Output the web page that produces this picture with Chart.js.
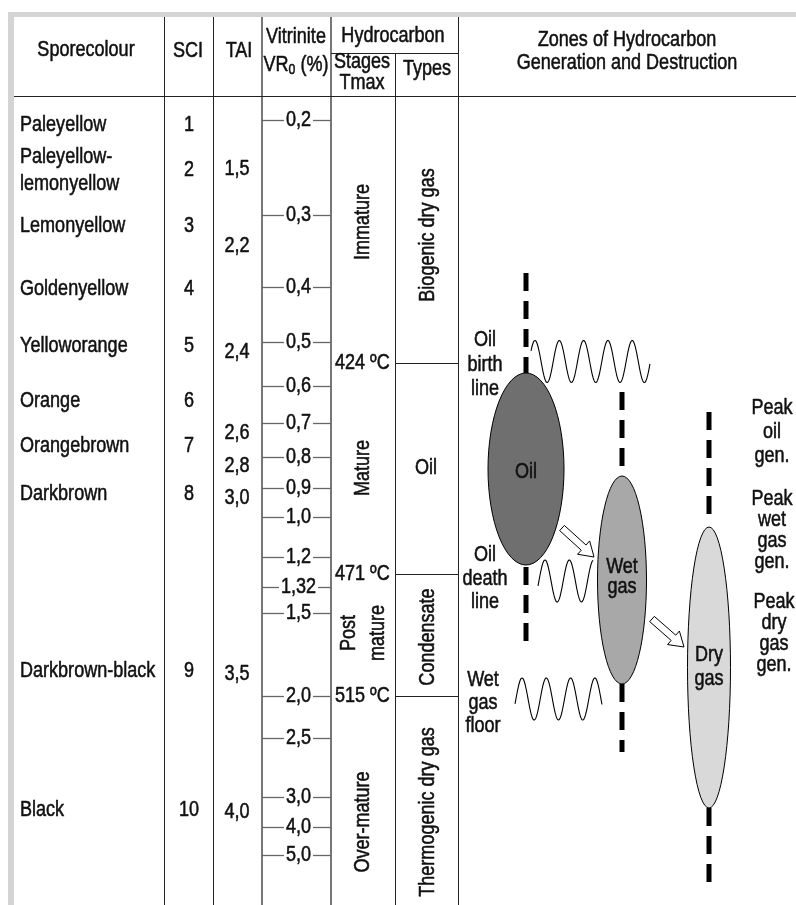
<!DOCTYPE html>
<html>
<head>
<meta charset="utf-8">
<script src="https://cdn.jsdelivr.net/npm/chart.js@4.4.1/dist/chart.umd.min.js"></script>
<style>
  html, body { margin: 0; padding: 0; background: #fff; }
  canvas { display: block; }
</style>
</head>
<body>
<canvas id="chart" width="796" height="905"></canvas>
<script>
// ---- table data (depth = position down the maturity column) ----
const sporeColours = ['Paleyellow', 'Paleyellow-\nlemonyellow', 'Lemonyellow', 'Goldenyellow', 'Yelloworange',
    'Orange', 'Orangebrown', 'Darkbrown', 'Darkbrown-black', 'Black']
const sciValues = ['1', '2', '3', '4', '5', '6', '7', '8', '9', '10']
const sporeDepth = [125, 170, 226, 289, 346, 401, 446, 494, 671, 810]

const taiValues = ['1,5', '2,2', '2,4', '2,6', '2,8', '3,0', '3,5', '4,0']
const taiDepth = [169, 246, 352, 433, 466, 498, 674, 812]

const vrValues = ['0,2', '0,3', '0,4', '0,5', '0,6', '0,7', '0,8', '0,9', '1,0', '1,2', '1,32', '1,5', '2,0', '2,5', '3,0', '4,0', '5,0']
const vrDepth = [120, 215, 287, 342, 386, 423, 457, 488, 517, 557, 587, 613, 696, 738, 797, 827, 855]

const tmaxValues = ['424 ºC', '471 ºC', '515 ºC']
const tmaxDepth = [363, 574, 696]

const stageNames = ['Immature', 'Mature', 'Post\nmature', 'Over-mature']
const stageDepth = [222, 468, 633, 822]

const typeNames = ['Biogenic dry gas', 'Oil', 'Condensate', 'Thermogenic dry gas']
const typeDepth = [235, 468, 637, 812]

// ---- zones of generation ----
const zoneNames = ['Oil', 'Wet\ngas', 'Dry\ngas']
const zoneTop = [373, 476, 527]
const zoneBottom = [565, 684, 808]
const boundaryNotes = ['Oil\nbirth\nline', 'Oil\ndeath\nline', 'Wet\ngas\nfloor']
const peakNotes = ['Peak\noil\ngen.', 'Peak\nwet\ngas\ngen.', 'Peak\ndry\ngas\ngen.']

// ---- layout (positions / styles, not data) ----
const FRAME = {left: 8, top: 12, inLeft: 14, inTop: 17, right: 796, bottom: 905}
const COL = {spore: 14, sci: 164, tai: 213, vr: 262, stage: 331, type: 395, zone: 458, end: 796}
const HEAD = {line: 96, sub: 53}
const zoneAxisX = [526, 622, 709]
const zoneHalfWidth = [38, 24.5, 21.5]
const zoneFill = ['#6f6f6f', '#a8a8a8', '#d9d9d9']
const zoneUpperDash = [[273, 373], [392, 470], [412, 518]]
const zoneLowerDash = [[567, 643], [684, 752], [808, 888]]
const waveLayout = [
    {start: 531, end: 650, peak: 535, mid: 361.5},
    {start: 538, end: 593, peak: 545, mid: 581},
    {start: 515, end: 602, peak: 522, mid: 699},
]
const WAVE_AMP = 21, WAVE_PERIOD = 24.3
const boundaryNoteLayout = [{x: 485, y: 340, gap: 24.5}, {x: 485, y: 555, gap: 23.5}, {x: 483, y: 680, gap: 23}]
const peakNoteLayout = [{x: 772, y: 408, gap: 24}, {x: 772, y: 499, gap: 21}, {x: 774, y: 602, gap: 21}]
const zoneLabelLayout = [{y: 472, gap: 0}, {y: 567, gap: 20}, {y: 655, gap: 24}]
const arrows = [[562, 528, 594, 557], [652, 619, 684, 647]]

function fontExists(name) {
    const c = document.createElement('canvas').getContext('2d')
    c.font = '40px monospace'
    const a = c.measureText('Sporecolour 0123').width
    c.font = '40px "' + name + '", monospace'
    return c.measureText('Sporecolour 0123').width !== a
}
const NARROW = fontExists('Liberation Sans Narrow')
const FONT_FAMILY = NARROW ? '"Liberation Sans Narrow", "Liberation Sans", sans-serif' : '"Liberation Sans", Arial, sans-serif'
const SQUEEZE = NARROW ? 1 : 0.82
const INK = '#111'

function textWidth(ctx, s, size) {
    ctx.font = size + 'px ' + FONT_FAMILY
    return ctx.measureText(s).width * SQUEEZE
}

function drawText(ctx, s, x, y, o = {}) {
    ctx.save()
    ctx.font = (o.size || 22) + 'px ' + FONT_FAMILY
    ctx.fillStyle = INK
    ctx.strokeStyle = INK
    ctx.lineWidth = 0.55
    ctx.lineJoin = 'round'
    ctx.textAlign = o.align || 'center'
    ctx.textBaseline = 'middle'
    ctx.translate(x, y)
    if (o.rotate) ctx.rotate(-Math.PI / 2)
    ctx.scale(SQUEEZE, 1)
    ctx.fillText(s, 0, 0)
    ctx.strokeText(s, 0, 0) // the original lettering is a bit heavier
    ctx.restore()
}

function line(ctx, x0, y0, x1, y1, color, w) {
    ctx.save()
    ctx.strokeStyle = color
    ctx.lineWidth = w
    ctx.beginPath()
    ctx.moveTo(x0, y0)
    ctx.lineTo(x1, y1)
    ctx.stroke()
    ctx.restore()
}

function blockArrow(ctx, x0, y0, x1, y1) {
    const dx = x1 - x0, dy = y1 - y0, len = Math.hypot(dx, dy)
    const ux = dx / len, uy = dy / len, nx = -uy, ny = ux
    const sw = 3.5, hw = 9, hl = 14
    const bx = x1 - ux * hl, by = y1 - uy * hl
    const pts = [
        [x0 + nx * sw, y0 + ny * sw], [bx + nx * sw, by + ny * sw], [bx + nx * hw, by + ny * hw], [x1, y1],
        [bx - nx * hw, by - ny * hw], [bx - nx * sw, by - ny * sw], [x0 - nx * sw, y0 - ny * sw]
    ]
    ctx.save()
    ctx.beginPath()
    pts.forEach((p, i) => i ? ctx.lineTo(p[0], p[1]) : ctx.moveTo(p[0], p[1]))
    ctx.closePath()
    ctx.fillStyle = '#fff'
    ctx.fill()
    ctx.strokeStyle = '#000'
    ctx.lineWidth = 1
    ctx.stroke()
    ctx.restore()
}

const diagramPlugin = {
    id: 'diagram',
    beforeDatasetsDraw(chart) {
        const ctx = chart.ctx
        const px = v => chart.scales.x.getPixelForValue(v)
        const py = v => chart.scales.y.getPixelForValue(v)
        const vx = v => Math.round(px(v)) + 0.5
        const vy = v => Math.round(py(v)) + 0.5

        // grey frame
        ctx.fillStyle = '#d4d4d4'
        ctx.fillRect(px(FRAME.left), py(FRAME.top), px(FRAME.right) - px(FRAME.left), py(FRAME.inTop) - py(FRAME.top))
        ctx.fillRect(px(FRAME.left), py(FRAME.top), px(FRAME.inLeft) - px(FRAME.left), py(FRAME.bottom) - py(FRAME.top))

        // column rules
        const top = py(FRAME.inTop), bottom = py(FRAME.bottom)
        ;[COL.sci, COL.tai, COL.zone].forEach(c => line(ctx, vx(c), top, vx(c), bottom, '#222', 1))
        ;[COL.vr, COL.stage].forEach(c => line(ctx, px(c), top, px(c), bottom, '#777', 2))
        line(ctx, vx(COL.type), py(HEAD.sub), vx(COL.type), bottom, '#222', 1)
        line(ctx, px(COL.stage), vy(HEAD.sub), px(COL.zone), vy(HEAD.sub), '#222', 1)
        line(ctx, px(COL.spore), vy(HEAD.line), px(COL.end), vy(HEAD.line), '#222', 1.2)
        tmaxDepth.forEach(d => line(ctx, px(COL.type), vy(d), px(COL.zone), vy(d), '#222', 1))

        // vitrinite ticks with the value in the gap
        const vrMid = (COL.vr + COL.stage) / 2 + 2
        vrValues.forEach((v, i) => {
            const w = textWidth(ctx, v, 22)
            const y = vy(vrDepth[i])
            line(ctx, px(COL.vr), y, px(vrMid) - w / 2 - 2, y, '#666', 1.3)
            line(ctx, px(vrMid) + w / 2 + 2, y, px(COL.stage), y, '#666', 1.3)
        })

        // generation zones
        zoneNames.forEach((n, i) => {
            const cx = px(zoneAxisX[i])
            const cy = (py(zoneTop[i]) + py(zoneBottom[i])) / 2
            const rx = px(zoneAxisX[i] + zoneHalfWidth[i]) - cx
            const ry = Math.abs(py(zoneBottom[i]) - py(zoneTop[i])) / 2
            ctx.save()
            ctx.beginPath()
            ctx.ellipse(cx, cy, rx, ry, 0, 0, Math.PI * 2)
            ctx.fillStyle = zoneFill[i]
            ctx.fill()
            ctx.strokeStyle = '#000'
            ctx.lineWidth = 1
            ctx.stroke()
            ctx.restore()
        })

        // boundary waves
        waveLayout.forEach(w => {
            ctx.save()
            ctx.beginPath()
            for (let x = w.start; x <= w.end; x += 0.5) {
                const y = w.mid - WAVE_AMP * Math.cos(2 * Math.PI * (x - w.peak) / WAVE_PERIOD)
                if (x === w.start) ctx.moveTo(px(x), py(y))
                else ctx.lineTo(px(x), py(y))
            }
            ctx.strokeStyle = '#000'
            ctx.lineWidth = 1.1
            ctx.stroke()
            ctx.restore()
        })

        arrows.forEach(a => blockArrow(ctx, px(a[0]), py(a[1]), px(a[2]), py(a[3])))
    },
    afterDatasetsDraw(chart) {
        const ctx = chart.ctx
        const px = v => chart.scales.x.getPixelForValue(v)
        const py = v => chart.scales.y.getPixelForValue(v)

        // header
        drawText(ctx, 'Sporecolour', px(86), py(50))
        drawText(ctx, 'SCI', px(188), py(51))
        drawText(ctx, 'TAI', px(239), py(51))
        drawText(ctx, 'Vitrinite', px(296), py(37))
        // VR0 (%) with subscript
        const wVR = textWidth(ctx, 'VR', 22), wSub = textWidth(ctx, '0', 15), wPct = textWidth(ctx, ' (%)', 22)
        let sx = px(296) - (wVR + wSub + wPct) / 2
        drawText(ctx, 'VR', sx, py(65), {align: 'left'})
        drawText(ctx, '0', sx + wVR, py(70), {align: 'left', size: 15})
        drawText(ctx, ' (%)', sx + wVR + wSub, py(65), {align: 'left'})
        drawText(ctx, 'Hydrocarbon', px(393), py(36))
        drawText(ctx, 'Stages', px(362), py(62))
        drawText(ctx, 'Tmax', px(362), py(83))
        drawText(ctx, 'Types', px(427), py(69))
        drawText(ctx, 'Zones of Hydrocarbon', px(627), py(40))
        drawText(ctx, 'Generation and Destruction', px(627), py(63))

        // sporecolour / SCI rows
        sporeColours.forEach((s, i) => {
            const parts = s.split('\n')
            parts.forEach((p, j) => drawText(ctx, p, px(20), py(sporeDepth[i] + (j - (parts.length - 1) / 2) * 27), {align: 'left'}))
            drawText(ctx, sciValues[i], px(189), py(sporeDepth[i]))
        })
        taiValues.forEach((t, i) => drawText(ctx, t, px(237), py(taiDepth[i])))
        const vrMid = (COL.vr + COL.stage) / 2 + 2
        vrValues.forEach((v, i) => drawText(ctx, v, px(vrMid), py(vrDepth[i])))
        tmaxValues.forEach((t, i) => drawText(ctx, t, px(335), py(tmaxDepth[i]), {align: 'left'}))

        // stages (rotated)
        stageNames.forEach((s, i) => {
            const parts = s.split('\n')
            parts.forEach((p, j) => drawText(ctx, p, px(363 + (j - (parts.length - 1) / 2) * 29), py(stageDepth[i]), {rotate: true}))
        })
        // hydrocarbon types
        typeNames.forEach((t, i) => drawText(ctx, t, px(t === 'Oil' ? 426 : 428), py(typeDepth[i]), {rotate: t !== 'Oil'}))

        // zones
        zoneNames.forEach((n, i) => {
            const lay = zoneLabelLayout[i]
            n.split('\n').forEach((p, j) => drawText(ctx, p, px(zoneAxisX[i]), py(lay.y + j * lay.gap)))
        })
        boundaryNotes.forEach((n, i) => {
            const lay = boundaryNoteLayout[i]
            n.split('\n').forEach((p, j) => drawText(ctx, p, px(lay.x), py(lay.y + j * lay.gap)))
        })
        peakNotes.forEach((n, i) => {
            const lay = peakNoteLayout[i]
            n.split('\n').forEach((p, j) => drawText(ctx, p, px(lay.x), py(lay.y + j * lay.gap)))
        })
    }
}

// dashed zone axes, one dataset per segment
const dashDatasets = []
zoneAxisX.forEach((x, i) => {
    [zoneUpperDash[i], zoneLowerDash[i]].forEach(seg => {
        dashDatasets.push({
            type: 'line',
            data: [{x: x, y: seg[0]}, {x: x, y: seg[1]}],
            borderColor: '#000',
            borderWidth: 5,
            borderDash: [18, 10],
            borderCapStyle: 'butt',
            pointRadius: 0,
            fill: false,
        })
    })
})

new Chart(document.getElementById('chart'), {
    type: 'scatter',
    data: {datasets: dashDatasets},
    options: {
        responsive: false,
        animation: false,
        devicePixelRatio: 1,
        layout: {padding: 0},
        plugins: {legend: {display: false}, tooltip: {enabled: false}},
        scales: {
            x: {type: 'linear', min: 0, max: 796, display: false},
            y: {type: 'linear', min: 0, max: 905, reverse: true, display: false},
        },
    },
    plugins: [diagramPlugin],
})
</script>
</body>
</html>
